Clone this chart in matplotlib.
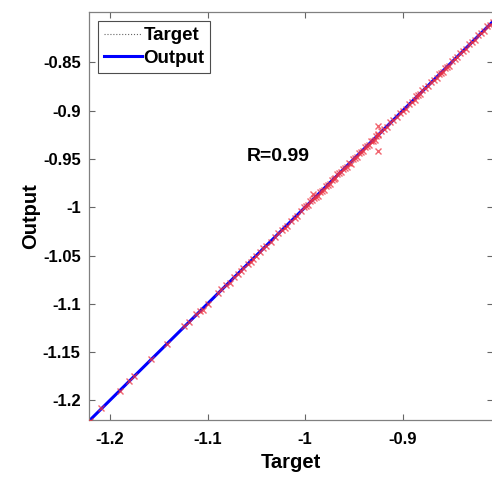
import matplotlib
matplotlib.use("Agg")
import matplotlib.pyplot as plt
import numpy as np

plt.rcParams['font.family'] = ['Liberation Sans', 'DejaVu Sans']
plt.rcParams['font.weight'] = 'bold'

# targets and network outputs
target = [
    -1.221, -1.209, -1.190, -1.181, -1.175, -1.158, -1.142, -1.124, -1.119, -1.112,
    -1.108, -1.105, -1.100, -1.089, -1.086, -1.081, -1.077, -1.073, -1.069, -1.066,
    -1.064, -1.059, -1.056, -1.054, -1.050, -1.046, -1.043, -1.040, -1.035, -1.031,
    -1.028, -1.024, -1.021, -1.019, -1.015, -1.011, -1.008, -1.004,
    -1.001, -0.999, -0.997, -0.995, -0.993, -0.9925, -0.991, -0.989, -0.987, -0.985,
    -0.983, -0.981, -0.979, -0.977, -0.975, -0.973, -0.971, -0.969, -0.967, -0.965,
    -0.963, -0.961, -0.959, -0.957, -0.955, -0.953, -0.951, -0.949, -0.947, -0.945,
    -0.943, -0.941, -0.939, -0.937, -0.935, -0.933, -0.931, -0.929, -0.927, -0.925,
    -0.925, -0.925, -0.925,
    -0.922, -0.919, -0.916, -0.913, -0.910, -0.906, -0.903, -0.900, -0.897, -0.894,
    -0.891, -0.888, -0.886, -0.884, -0.882, -0.880, -0.877, -0.874, -0.871, -0.868,
    -0.865, -0.863, -0.861, -0.859, -0.857, -0.855, -0.853, -0.850, -0.847, -0.844,
    -0.841, -0.838, -0.835, -0.832, -0.829, -0.826, -0.823, -0.820, -0.817, -0.814,
    -0.811, -0.808,
]
output = [
    -1.221, -1.208, -1.190, -1.180, -1.175, -1.157, -1.142, -1.123, -1.119, -1.111,
    -1.107, -1.106, -1.100, -1.089, -1.085, -1.081, -1.078, -1.072, -1.069, -1.066,
    -1.063, -1.059, -1.057, -1.054, -1.051, -1.046, -1.042, -1.040, -1.036, -1.031,
    -1.027, -1.024, -1.022, -1.019, -1.014, -1.011, -1.009, -1.004,
    -1.000, -0.999, -0.998, -0.994, -0.993, -0.986, -0.990, -0.989, -0.988, -0.984,
    -0.983, -0.982, -0.978, -0.977, -0.976, -0.972, -0.971, -0.970, -0.966, -0.965,
    -0.964, -0.960, -0.959, -0.958, -0.954, -0.955, -0.950, -0.949, -0.948, -0.944,
    -0.943, -0.942, -0.938, -0.937, -0.936, -0.932, -0.931, -0.930, -0.926, -0.925,
    -0.916, -0.9415, -0.924,
    -0.921, -0.919, -0.917, -0.912, -0.910, -0.907, -0.902, -0.900, -0.898, -0.893,
    -0.891, -0.889, -0.885, -0.884, -0.883, -0.879, -0.877, -0.875, -0.870, -0.868,
    -0.866, -0.862, -0.861, -0.860, -0.856, -0.855, -0.854, -0.849, -0.847, -0.845,
    -0.840, -0.838, -0.836, -0.831, -0.829, -0.827, -0.822, -0.820, -0.818, -0.813,
    -0.811, -0.808,
]
r_text = "R=0.99"
x_ticks = [-1.2, -1.1, -1.0, -0.9]
x_tick_labels = ["-1.2", "-1.1", "-1", "-0.9"]
y_ticks = [-1.2, -1.15, -1.1, -1.05, -1.0, -0.95, -0.9, -0.85]
y_tick_labels = ["-1.2", "-1.15", "-1.1", "-1.05", "-1", "-0.95", "-0.9", "-0.85"]

t = np.array(target)
y = np.array(output)
lo = min(t.min(), y.min())
hi = max(t.max(), y.max())

fig = plt.figure(figsize=(4.92, 4.78), dpi=100)
ax = fig.add_axes([89 / 492, 58 / 478, 404 / 492, 408 / 478])

# fit line
a, b = np.polyfit(t, y, 1)
xs = np.array([lo, hi])

ax.plot(xs, xs, ':', color='0.4', lw=0.8, label='Target')
ax.plot(xs, a * xs + b, '-', color='blue', lw=2.2, label='Output')
ax.plot(t, y, 'x', color=(0.93, 0.2, 0.25), ms=4.5, mew=1.0, alpha=0.75, zorder=3)

ax.set_xlim(-1.2216, -0.8076)
ax.set_ylim(-1.2202, -0.798)
ax.set_xticks(x_ticks)
ax.set_xticklabels(x_tick_labels)
ax.set_yticks(y_ticks)
ax.set_yticklabels(y_tick_labels)
ax.tick_params(direction='in', length=4, width=0.8, color='0.4',
               top=True, right=True, labelsize=12, pad=6)
ax.tick_params(axis='x', pad=9)
for s in ax.spines.values():
    s.set_color('0.5')
    s.set_linewidth(0.9)

ax.set_xlabel('Target', fontsize=14.5, fontweight='bold', labelpad=4)
ax.set_ylabel('Output', fontsize=14.5, fontweight='bold', labelpad=2)

ax.text(-1.060, -0.948, r_text, fontsize=14, fontweight='bold', va='center', ha='left')

leg = ax.legend(loc='upper left', fontsize=13.5, handlelength=2.0, handletextpad=0.1,
                borderaxespad=0.5, borderpad=0.3, labelspacing=0.3, fancybox=False,
                framealpha=1)
leg.get_frame().set_edgecolor('0.3')
leg.get_frame().set_linewidth(0.8)

fig.savefig('out.png', dpi=100)
